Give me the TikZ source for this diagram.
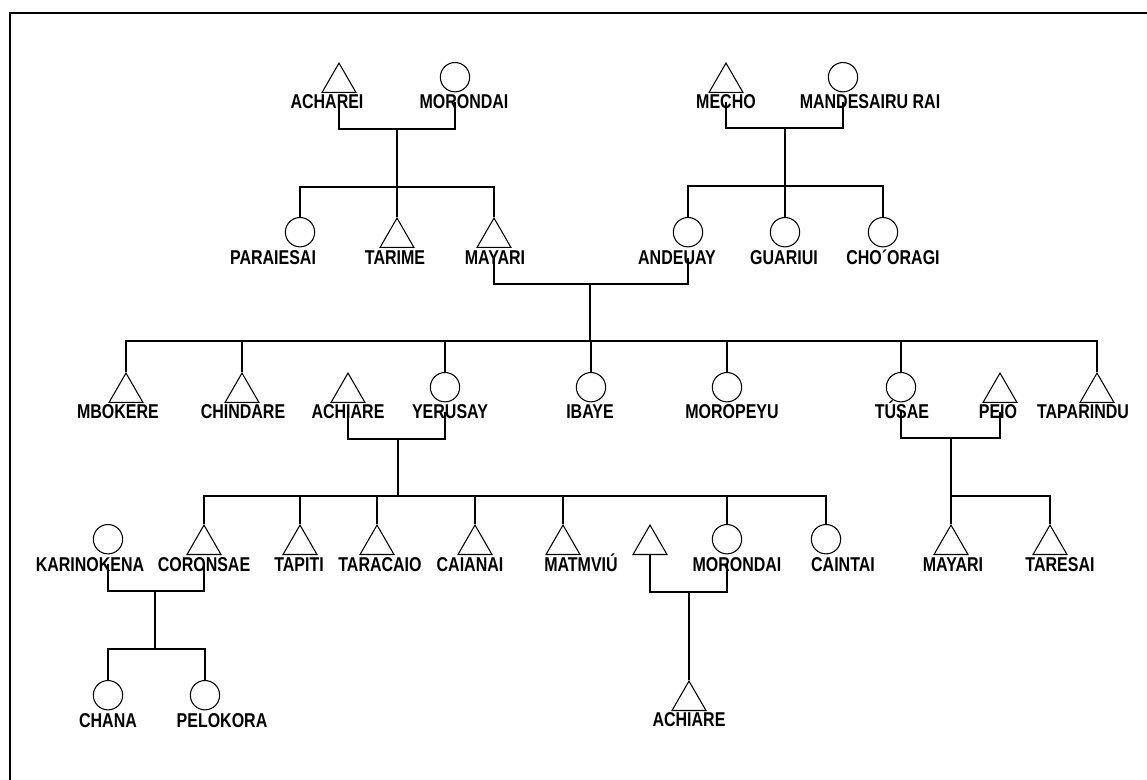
\documentclass[tikz,border=0pt]{standalone}
\usepackage{fontspec}
\setmainfont{Liberation Sans}
\newfontfamily\labfont[FakeStretch=0.8]{Liberation Sans}
\usetikzlibrary{shapes.geometric}

\tikzset{
	male/.style={draw, regular polygon, regular polygon sides=3, minimum size=29.4pt, inner sep=0pt, anchor=north, line width=0.8pt},
	female/.style={draw, circle, minimum size=22pt, inner sep=0pt, anchor=north, line width=0.8pt},
	plabel/.style={inner sep=0pt, anchor=base, font=\labfont\bfseries\fontsize{15}{16}\selectfont},
	tie/.style={line width=1.4pt},
}

\begin{document}
\begin{tikzpicture}[x=0.75pt,y=-0.75pt]
	\useasboundingbox (0,0) rectangle (1147,780);
	\coordinate (fr1) at (1147,13);
	\coordinate (fr2) at (10,13);
	\coordinate (fr3) at (10,780);
	\draw[line width=1.4pt] (fr1) -- (fr2) -- (fr3);

	% first generation
	\node[male] (acharei) at (339,62) {};
	\node[plabel] (acharei-l) at (327,109) {ACHAREI};
	\node[female] (morondai) at (455,62) {};
	\node[plabel] (morondai-l) at (464,109) {MORONDAI};
	\node[male] (mecho) at (726,62) {};
	\node[plabel] (mecho-l) at (726,109) {MECHO};
	\node[female] (mandes) at (843,62) {};
	\node[plabel] (mandes-l) at (870,109) {MANDESAIRU RAI};

	% second generation
	\node[female] (paraiesai) at (300,217) {};
	\node[plabel] (paraiesai-l) at (273,265) {PARAIESAI};
	\node[male] (tarime) at (397,217) {};
	\node[plabel] (tarime-l) at (395,265) {TARIME};
	\node[male] (mayari) at (494,217) {};
	\node[plabel] (mayari-l) at (495,265) {MAYARI};
	\node[female] (andeuay) at (688,217) {};
	\node[plabel] (andeuay-l) at (677,265) {ANDEUAY};
	\node[female] (guariui) at (785,217) {};
	\node[plabel] (guariui-l) at (784,265) {GUARIUI};
	\node[female] (choragi) at (883,217) {};
	\node[plabel] (choragi-l) at (893,265) {CHO´ORAGI};

	% third generation
	\node[male] (mbokere) at (126,372) {};
	\node[plabel] (mbokere-l) at (118,419) {MBOKERE};
	\node[male] (chindare) at (242,372) {};
	\node[plabel] (chindare-l) at (243,419) {CHINDARE};
	\node[male] (achiare) at (348,372) {};
	\node[plabel] (achiare-l) at (348,419) {ACHIARE};
	\node[female] (yerusay) at (445,372) {};
	\node[plabel] (yerusay-l) at (450,419) {YERUSAY};
	\node[female] (ibaye) at (591,372) {};
	\node[plabel] (ibaye-l) at (590,419) {IBAYE};
	\node[female] (moropeyu) at (727,372) {};
	\node[plabel] (moropeyu-l) at (732,419) {MOROPEYU};
	\node[female] (tusae) at (901,372) {};
	\node[plabel] (tusae-l) at (902,419) {TÚSAE};
	\node[male] (peio) at (1000,372) {};
	\node[plabel] (peio-l) at (998,419) {PEIO};
	\node[male] (taparindu) at (1097,372) {};
	\node[plabel] (taparindu-l) at (1083,419) {TAPARINDU};

	% fourth generation
	\node[female] (karinokena) at (108,524) {};
	\node[plabel] (karinokena-l) at (90,571) {KARINOKENA};
	\node[male] (coronsae) at (204,524) {};
	\node[plabel] (coronsae-l) at (204,571) {CORONSAE};
	\node[male] (tapiti) at (300,524) {};
	\node[plabel] (tapiti-l) at (299,571) {TAPITI};
	\node[male] (taracaio) at (377,524) {};
	\node[plabel] (taracaio-l) at (380,571) {TARACAIO};
	\node[male] (caianai) at (475,524) {};
	\node[plabel] (caianai-l) at (470,571) {CAIANAI};
	\node[male] (matmviu) at (563,524) {};
	\node[plabel] (matmviu-l) at (581,571) {MATMVIÚ};
	\node[male] (husband) at (650,524) {};
	\node[female] (morondaib) at (727,524) {};
	\node[plabel] (morondaib-l) at (737,571) {MORONDAI};
	\node[female] (caintai) at (826,524) {};
	\node[plabel] (caintai-l) at (843,571) {CAINTAI};
	\node[male] (mayarib) at (951,524) {};
	\node[plabel] (mayarib-l) at (953,571) {MAYARI};
	\node[male] (taresai) at (1050,524) {};
	\node[plabel] (taresai-l) at (1060,571) {TARESAI};

	% fifth generation
	\node[female] (chana) at (108,680) {};
	\node[plabel] (chana-l) at (108,727) {CHANA};
	\node[female] (pelokora) at (205,680) {};
	\node[plabel] (pelokora-l) at (222,727) {PELOKORA};
	\node[male] (achiareb) at (689,680) {};
	\node[plabel] (achiareb-l) at (689,726) {ACHIARE};

	% marriages and descent
	\coordinate (m1) at (397,129);
	\coordinate (s1) at (397,187);
	\coordinate (m2) at (785,128);
	\coordinate (s2) at (785,186);
	\coordinate (m3) at (590,284);
	\coordinate (s3) at (590,341);
	\coordinate (m4) at (398,439);
	\coordinate (s4) at (398,496);
	\coordinate (m5) at (951,438);
	\coordinate (s5) at (951,496);
	\coordinate (m6) at (155,591);
	\coordinate (s6) at (155,649);
	\coordinate (m7) at (689,592);

	\begin{scope}[tie]
		\draw (acharei |- acharei-l.center) |- (m1) -| (morondai |- morondai-l.center);
		\draw (m1) -- (s1);
		\draw (paraiesai.north) |- (mayari.north |- s1) -- (mayari.north);
		\draw (s1) -- (tarime.north);

		\draw (mecho |- mecho-l.center) |- (m2) -| (mandes |- mandes-l.center);
		\draw (m2) -- (s2);
		\draw (andeuay.north) |- (choragi.north |- s2) -- (choragi.north);
		\draw (s2) -- (guariui.north);

		\draw (mayari |- mayari-l.center) |- (m3) -| (andeuay |- andeuay-l.center);
		\draw (m3) -- (s3);
		\draw (mbokere.north) |- (taparindu.north |- s3) -- (taparindu.north);
		\foreach \n in {chindare,yerusay,ibaye,moropeyu,tusae}
			\draw (\n.north |- s3) -- (\n.north);

		\draw (achiare |- achiare-l.center) |- (m4) -| (yerusay |- yerusay-l.center);
		\draw (m4) -- (s4);
		\draw (coronsae.north) |- (caintai.north |- s4) -- (caintai.north);
		\foreach \n in {tapiti,taracaio,caianai,matmviu,morondaib}
			\draw (\n.north |- s4) -- (\n.north);

		\draw (tusae |- tusae-l.center) |- (m5) -| (peio |- peio-l.center);
		\draw (m5) -- (s5);
		\draw (mayarib.north) |- (taresai.north |- s5) -- (taresai.north);

		\draw (karinokena |- karinokena-l.center) |- (m6) -| (coronsae |- coronsae-l.center);
		\draw (m6) -- (s6);
		\draw (chana.north) |- (pelokora.north |- s6) -- (pelokora.north);

		\draw (husband.south) |- (m7) -| (morondaib |- morondaib-l.center);
		\draw (m7) -- (achiareb.north);
	\end{scope}
\end{tikzpicture}
\end{document}
